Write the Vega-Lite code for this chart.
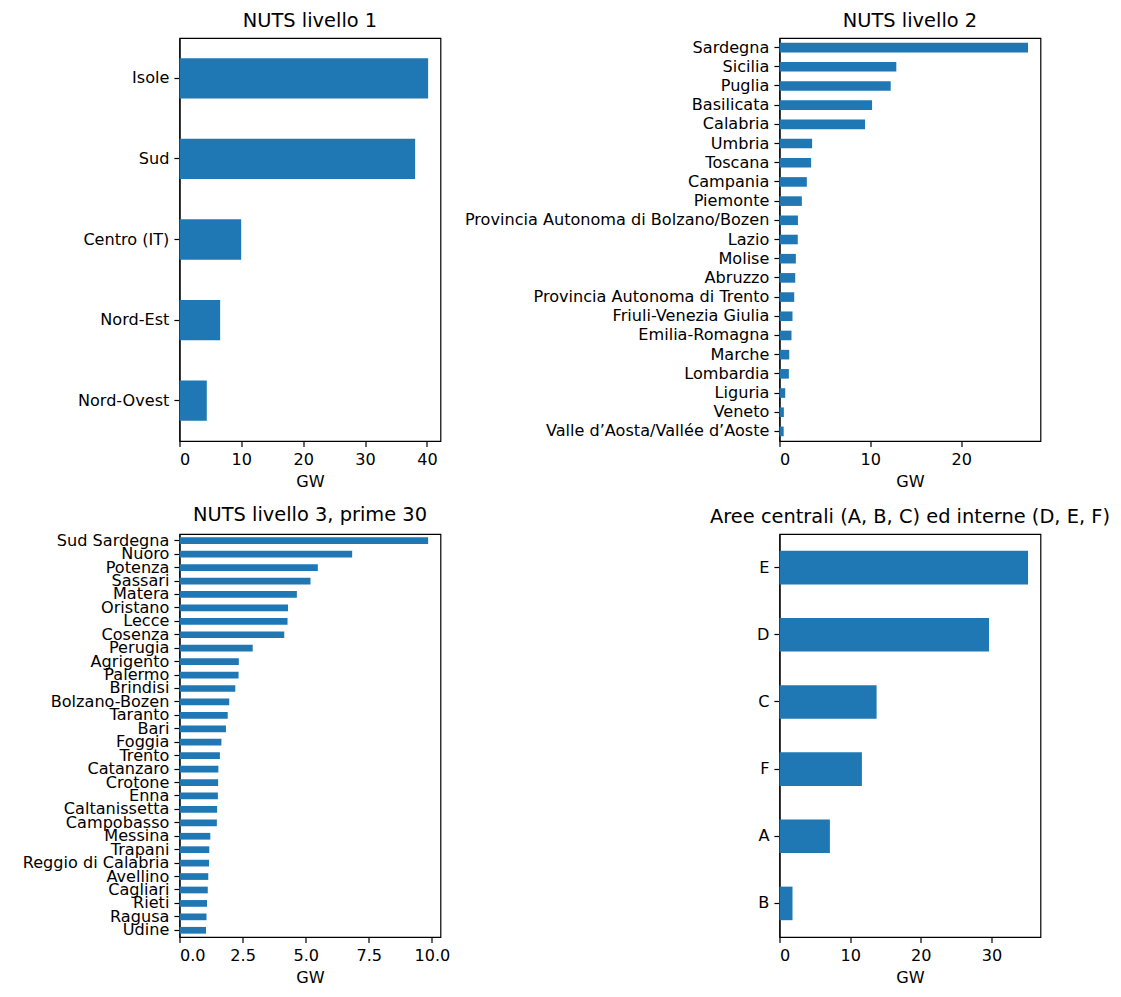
{
  "$schema": "https://vega.github.io/schema/vega-lite/v6.json",
  "background": "white",
  "padding": {"left": 21.5, "top": 10, "right": 10, "bottom": 10},
  "bounds": "flush",
  "columns": 2,
  "spacing": {"row": 93, "column": 339},
  "datasets": {
    "n1": [
      {"area": "Isole", "gw": 40.2},
      {"area": "Sud", "gw": 38.1},
      {"area": "Centro (IT)", "gw": 9.97},
      {"area": "Nord-Est", "gw": 6.57},
      {"area": "Nord-Ovest", "gw": 4.41}
    ],
    "n2": [
      {"area": "Sardegna", "gw": 27.36},
      {"area": "Sicilia", "gw": 12.86},
      {"area": "Puglia", "gw": 12.24},
      {"area": "Basilicata", "gw": 10.19},
      {"area": "Calabria", "gw": 9.42},
      {"area": "Umbria", "gw": 3.59},
      {"area": "Toscana", "gw": 3.48},
      {"area": "Campania", "gw": 3.01},
      {"area": "Piemonte", "gw": 2.46},
      {"area": "Provincia Autonoma di Bolzano/Bozen", "gw": 2.03},
      {"area": "Lazio", "gw": 2.01},
      {"area": "Molise", "gw": 1.8},
      {"area": "Abruzzo", "gw": 1.73},
      {"area": "Provincia Autonoma di Trento", "gw": 1.62},
      {"area": "Friuli-Venezia Giulia", "gw": 1.43},
      {"area": "Emilia-Romagna", "gw": 1.32},
      {"area": "Marche", "gw": 1.07},
      {"area": "Lombardia", "gw": 1.03},
      {"area": "Liguria", "gw": 0.63},
      {"area": "Veneto", "gw": 0.48},
      {"area": "Valle d’Aosta/Vallée d’Aoste", "gw": 0.46}
    ],
    "n3": [
      {"area": "Sud Sardegna", "gw": 9.85},
      {"area": "Nuoro", "gw": 6.84},
      {"area": "Potenza", "gw": 5.48},
      {"area": "Sassari", "gw": 5.19},
      {"area": "Matera", "gw": 4.65},
      {"area": "Oristano", "gw": 4.3},
      {"area": "Lecce", "gw": 4.28},
      {"area": "Cosenza", "gw": 4.15},
      {"area": "Perugia", "gw": 2.9},
      {"area": "Agrigento", "gw": 2.35},
      {"area": "Palermo", "gw": 2.34},
      {"area": "Brindisi", "gw": 2.21},
      {"area": "Bolzano-Bozen", "gw": 1.97},
      {"area": "Taranto", "gw": 1.91},
      {"area": "Bari", "gw": 1.84},
      {"area": "Foggia", "gw": 1.66},
      {"area": "Trento", "gw": 1.6},
      {"area": "Catanzaro", "gw": 1.54},
      {"area": "Crotone", "gw": 1.53},
      {"area": "Enna", "gw": 1.52},
      {"area": "Caltanissetta", "gw": 1.49},
      {"area": "Campobasso", "gw": 1.48},
      {"area": "Messina", "gw": 1.22},
      {"area": "Trapani", "gw": 1.18},
      {"area": "Reggio di Calabria", "gw": 1.17},
      {"area": "Avellino", "gw": 1.14},
      {"area": "Cagliari", "gw": 1.12},
      {"area": "Rieti", "gw": 1.09},
      {"area": "Ragusa", "gw": 1.07},
      {"area": "Udine", "gw": 1.05}
    ],
    "n4": [
      {"area": "E", "gw": 35.17},
      {"area": "D", "gw": 29.65},
      {"area": "C", "gw": 13.74},
      {"area": "F", "gw": 11.66},
      {"area": "A", "gw": 7.13},
      {"area": "B", "gw": 1.84}
    ]
  },
  "config": {
    "font": "DejaVu Sans",
    "view": {"stroke": "black", "strokeWidth": 1.2},
    "axis": {
      "grid": false,
      "labelFont": "DejaVu Sans",
      "labelFontSize": 16.1,
      "labelColor": "black",
      "labelPadding": 5,
      "labelLimit": 0,
      "tickColor": "black",
      "tickSize": 5.6,
      "tickWidth": 1.2,
      "domainColor": "black",
      "domainWidth": 1.2,
      "titleFont": "DejaVu Sans",
      "titleFontSize": 16.1,
      "titleFontWeight": "normal",
      "titleColor": "black",
      "titlePadding": 6
    },
    "title": {"font": "DejaVu Sans", "fontSize": 19.4, "fontWeight": "normal", "color": "black", "offset": 7},
    "bar": {"color": "#1f77b4"}
  },
  "concat": [
    {
      "title": "NUTS livello 1",
      "width": 261, "height": 403,
      "data": {"name": "n1"},
      "mark": {"type": "bar"},
      "encoding": {
        "y": {"field": "area", "type": "nominal", "sort": null, "title": null,
              "scale": {"paddingInner": 0.5, "paddingOuter": 0.25}},
        "x": {"field": "gw", "type": "quantitative", "title": "GW",
              "scale": {"domain": [0, 42.2], "nice": false, "zero": true},
              "axis": {"values": [0, 10, 20, 30, 40]}}
      }
    },
    {
      "title": "NUTS livello 2",
      "width": 261, "height": 403,
      "data": {"name": "n2"},
      "mark": {"type": "bar"},
      "encoding": {
        "y": {"field": "area", "type": "nominal", "sort": null, "title": null,
              "scale": {"paddingInner": 0.5, "paddingOuter": 0.25}},
        "x": {"field": "gw", "type": "quantitative", "title": "GW",
              "scale": {"domain": [0, 28.73], "nice": false, "zero": true},
              "axis": {"values": [0, 10, 20]}}
      }
    },
    {
      "title": "NUTS livello 3, prime 30",
      "width": 261, "height": 403,
      "data": {"name": "n3"},
      "mark": {"type": "bar"},
      "encoding": {
        "y": {"field": "area", "type": "nominal", "sort": null, "title": null,
              "scale": {"paddingInner": 0.5, "paddingOuter": 0.25}},
        "x": {"field": "gw", "type": "quantitative", "title": "GW",
              "scale": {"domain": [0, 10.34], "nice": false, "zero": true},
              "axis": {"values": [0, 2.5, 5, 7.5, 10], "format": ".1f"}}
      }
    },
    {
      "title": "Aree centrali (A, B, C) ed interne (D, E, F)",
      "width": 261, "height": 403,
      "data": {"name": "n4"},
      "mark": {"type": "bar"},
      "encoding": {
        "y": {"field": "area", "type": "nominal", "sort": null, "title": null,
              "scale": {"paddingInner": 0.5, "paddingOuter": 0.25}},
        "x": {"field": "gw", "type": "quantitative", "title": "GW",
              "scale": {"domain": [0, 36.93], "nice": false, "zero": true},
              "axis": {"values": [0, 10, 20, 30]}}
      }
    }
  ]
}
